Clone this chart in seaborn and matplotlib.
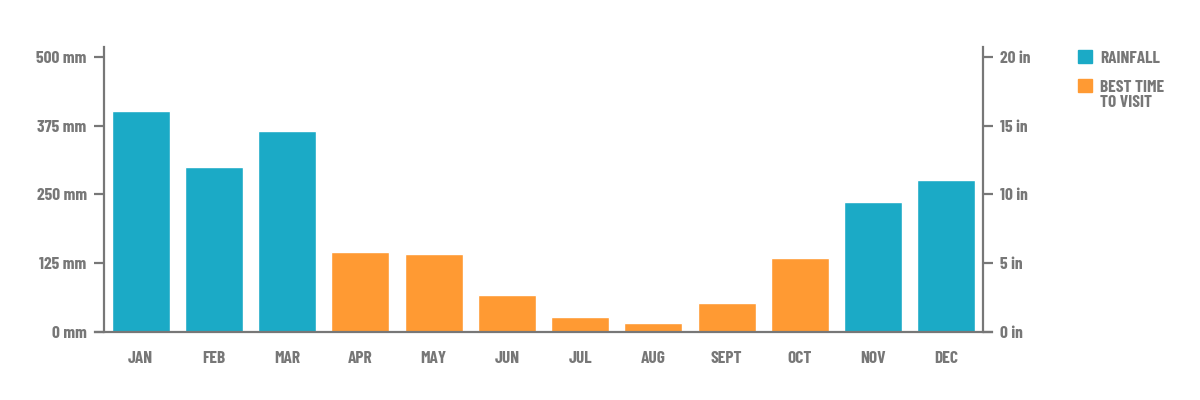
import matplotlib
matplotlib.use("Agg")
import matplotlib.pyplot as plt
import seaborn as sns
import pandas as pd
from matplotlib.patches import Rectangle

# data
months = ['JAN', 'FEB', 'MAR', 'APR', 'MAY', 'JUN', 'JUL', 'AUG', 'SEPT', 'OCT', 'NOV', 'DEC']
rainfall_mm = [402, 299, 365, 145, 141, 67, 27, 16, 53, 135, 237, 276]
best_time = [False, False, False, True, True, True, True, True, True, True, False, False]
mm_ticks = [0, 125, 250, 375, 500]
in_ticks = [0, 5, 10, 15, 20]
legend_labels = ['RAINFALL', 'BEST TIME\nTO VISIT']

teal = '#1BAAC6'
orange = '#FF9A33'
grey = '#777777'

df = pd.DataFrame({'month': months, 'rain': rainfall_mm,
                   'kind': [legend_labels[1] if b else legend_labels[0] for b in best_time]})

sns.set_style('white')
plt.rcParams['font.family'] = ['Barlow Condensed', 'DejaVu Sans']
fw = 700
fs = 12.5

fig = plt.figure(figsize=(12, 4), dpi=100)
ax = fig.add_axes([0.0867, 0.17, 0.7325, 0.7125])

sns.barplot(data=df, x='month', y='rain', hue='kind', dodge=False, width=0.79,
            palette={legend_labels[0]: teal, legend_labels[1]: orange},
            saturation=1, legend=False, ax=ax)

ax.set_xlim(-0.5, 11.5)
ax.set_ylim(0, 518)
ax.set_yticks(mm_ticks)
ax.set_yticklabels([f'{t} mm' for t in mm_ticks])
ax.set_xlabel('')
ax.set_ylabel('')

ax2 = ax.twinx()
ax2.set_ylim(0, 518 / 25)
ax2.set_yticks(in_ticks)
ax2.set_yticklabels([f'{t} in' for t in in_ticks])

for a in (ax, ax2):
    for s in a.spines.values():
        s.set_color(grey)
        s.set_linewidth(1.6)
    a.spines['top'].set_visible(False)
    a.tick_params(colors=grey, labelcolor=grey, labelsize=fs, length=7.5, width=1.6, pad=5)
ax.spines['right'].set_visible(False)
ax2.spines['left'].set_visible(False)
ax2.spines['bottom'].set_visible(False)
ax.spines['bottom'].set_bounds(-0.62, 11.62)
ax.tick_params(axis='x', pad=6)
for lab in ax.get_xticklabels() + ax.get_yticklabels() + ax2.get_yticklabels():
    lab.set_fontweight(fw)

# legend drawn by hand so the orange box sits on the first line of its label
for i, (lab, col) in enumerate(zip(legend_labels, [teal, orange])):
    top = 0.875 - i * 0.0725
    fig.patches.append(Rectangle((0.8983, top - 0.0325), 0.0115, 0.0325, color=col,
                                 transform=fig.transFigure, figure=fig))
    fig.text(0.9167, top - 0.002, lab, color=grey, fontsize=fs, fontweight=fw,
             va='top', ha='left', linespacing=1.0)

fig.savefig('out.png', dpi=100)
